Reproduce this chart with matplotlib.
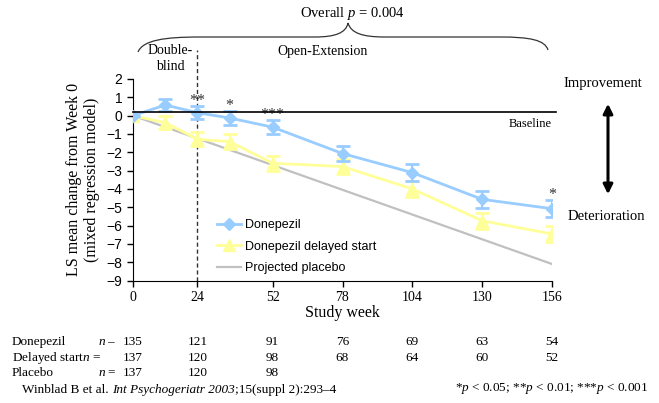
import matplotlib
matplotlib.use("Agg")
import matplotlib.pyplot as plt
from matplotlib.path import Path
from matplotlib.patches import PathPatch
from matplotlib.lines import Line2D
import matplotlib.transforms as mtransforms

plt.rcParams['font.family'] = ['Liberation Serif', 'DejaVu Serif']
plt.rcParams['mathtext.fontset'] = 'custom'
plt.rcParams['mathtext.rm'] = 'Liberation Serif'
plt.rcParams['mathtext.it'] = 'Liberation Serif:italic'

# ---- data ----
weeks = [0, 12, 24, 36, 52, 78, 104, 130, 156]
donepezil = [0, 0.58, 0.16, -0.13, -0.63, -2.07, -3.11, -4.57, -5.08]
donepezil_err = [0, 0.33, 0.35, 0.38, 0.38, 0.42, 0.45, 0.45, 0.45]
delayed = [0, -0.38, -1.29, -1.42, -2.60, -2.78, -4.00, -5.74, -6.46]
delayed_err = [0, 0.35, 0.38, 0.40, 0.42, 0.42, 0.45, 0.45, 0.45]
placebo_weeks = [0, 156]
placebo = [0, -8.1]
baseline_level = 0.2
sig_weeks = [24, 36, 52, 156]
sig_labels = ['**', '*', '***', '*']

xticks = [0, 24, 52, 78, 104, 130, 156]
yticks = list(range(-9, 3))

n_weeks = [0, 24, 52, 78, 104, 130, 156]
n_donepezil = [135, 121, 91, 76, 69, 63, 54]
n_delayed = [137, 120, 98, 68, 64, 60, 52]
n_placebo = [137, 120, 98]

c_don = '#99CCFF'
c_del = '#FFFF99'
c_pla = '#C0C0C0'

W, H = 659, 403
fig = plt.figure(figsize=(W / 100, H / 100), dpi=100)

def fx(x):
    return x / W

def fy(y):
    return 1 - y / H

ax = fig.add_axes([fx(133), fy(280.5), fx(552) - fx(133), fy(79) - fy(280.5)])
ax.set_xlim(0, 156)
ax.set_ylim(-9, 2)

ax.plot(placebo_weeks, placebo, color=c_pla, lw=1.6, zorder=2)
ax.errorbar(weeks, delayed, yerr=delayed_err, color=c_del, lw=2, marker='^', ms=9,
            capsize=5, capthick=2, elinewidth=1.5, zorder=3)
ax.errorbar(weeks, donepezil, yerr=donepezil_err, color=c_don, lw=2, marker='D', ms=6,
            capsize=5, capthick=2, elinewidth=1.5, zorder=4)

# baseline line
ax.plot([0, 157.5], [baseline_level, baseline_level], color='black', lw=1.2, clip_on=False, zorder=5)
ax.text(155.8, baseline_level - 0.35, 'Baseline', ha='right', va='top', fontsize=9)

# dashed line at end of double-blind phase
ax.plot([24, 24], [-9, 3.6], color='#333333', lw=1, ls=(0, (3, 2)), clip_on=False, zorder=1)

# significance markers
for w, lab in zip(sig_weeks, sig_labels):
    i = weeks.index(w)
    ax.annotate(lab, (w, donepezil[i] + donepezil_err[i]), xytext=(0, 1), textcoords='offset points',
                ha='center', va='baseline', fontsize=11.5, color='#333333')

for s in ['top', 'right']:
    ax.spines[s].set_visible(False)
ax.set_xticks(xticks)
ax.set_yticks(yticks)
ax.tick_params(direction='out', length=4, width=1)
for lab in ax.get_yticklabels():
    lab.set_family('Liberation Sans')
    lab.set_fontsize(10)
for lab in ax.get_xticklabels():
    lab.set_fontsize(10)
ax.set_xlabel('Study week', fontsize=11.5, labelpad=1)
ax.set_ylabel('LS mean change from Week 0\n(mixed regression model)', fontsize=11.5, labelpad=5,
              linespacing=1.15)

handles = [Line2D([], [], color=c_don, lw=2, marker='D', ms=6),
           Line2D([], [], color=c_del, lw=2, marker='^', ms=9),
           Line2D([], [], color=c_pla, lw=1.6)]
labels = ['Donepezil', 'Donepezil delayed start', 'Projected placebo']
ax.legend(handles, labels,
          loc='upper left', bbox_to_anchor=(fx(211), fy(213)), bbox_transform=fig.transFigure,
          frameon=False, prop={'family': 'Liberation Sans', 'size': 9},
          handlelength=1.9, handletextpad=0.3, labelspacing=0.75, borderpad=0)

# curly brace
verts = [(138, 52), (143, 40), (165, 37), (200, 37),
         (315, 37),
         (335, 37), (346, 33), (348, 23),
         (351, 33), (362, 37), (385, 37),
         (500, 37),
         (530, 37), (545, 40), (548, 50)]
codes = [Path.MOVETO, Path.CURVE4, Path.CURVE4, Path.CURVE4,
         Path.LINETO,
         Path.CURVE4, Path.CURVE4, Path.CURVE4,
         Path.CURVE4, Path.CURVE4, Path.CURVE4,
         Path.LINETO,
         Path.CURVE4, Path.CURVE4, Path.CURVE4]
path = Path([(fx(x), fy(y)) for x, y in verts], codes)
fig.add_artist(PathPatch(path, transform=fig.transFigure, fill=False, lw=0.9, edgecolor='#333333'))

fig.text(fx(352), fy(13), 'Overall $p$ = 0.004', ha='center', va='center', fontsize=10.5)
fig.text(fx(170), fy(50), 'Double-', ha='center', va='center', fontsize=10)
fig.text(fx(170), fy(67), 'blind', ha='center', va='center', fontsize=10)
fig.text(fx(323), fy(51), 'Open-Extension', ha='center', va='center', fontsize=10)

# right side arrow and labels
fig.text(fx(603), fy(83), 'Improvement', ha='center', va='center', fontsize=10.5)
fig.text(fx(606), fy(217), 'Deterioration', ha='center', va='center', fontsize=10.5)
fig.add_artist(matplotlib.patches.FancyArrowPatch((fx(608), fy(197)), (fx(608), fy(101)),
               transform=fig.transFigure, arrowstyle='<|-|>', mutation_scale=14, lw=2.2,
               color='black'))

# n table
blend = mtransforms.blended_transform_factory(ax.transData, fig.transFigure)
row_y = [fy(342), fy(358), fy(373)]
fig.text(fx(12), row_y[0], 'Donepezil', ha='left', va='center', fontsize=9.5)
fig.text(fx(98), row_y[0], '$n$ \u2013', ha='left', va='center', fontsize=9.5)
fig.text(fx(12), row_y[1], 'Delayed start$n$ =', ha='left', va='center', fontsize=9.5)
fig.text(fx(12), row_y[2], 'Placebo', ha='left', va='center', fontsize=9.5)
fig.text(fx(98), row_y[2], '$n$ =', ha='left', va='center', fontsize=9.5)
for vals, yy in zip([n_donepezil, n_delayed, n_placebo], row_y):
    for w, v in zip(n_weeks, vals):
        ax.text(w, yy, str(v), transform=blend, ha='center', va='center', fontsize=9.5)

# citation: plain + italic + plain pieces
t1 = fig.text(fx(22), fy(390), 'Winblad B et al. ', ha='left', va='center', fontsize=9.5)
fig.canvas.draw()
r = fig.canvas.get_renderer()
bb = t1.get_window_extent(r)
t2 = fig.text(bb.x1 / W, fy(390), 'Int Psychogeriatr 2003', ha='left', va='center', fontsize=9.5,
              style='italic')
bb2 = t2.get_window_extent(r)
fig.text(bb2.x1 / W, fy(390), ';15(suppl 2):293\u20134', ha='left', va='center', fontsize=9.5)

fig.text(fx(648), fy(388), '*$p$ < 0.05; **$p$ < 0.01; ***$p$ < 0.001', ha='right', va='center',
         fontsize=9.5)

fig.savefig('out.png', dpi=100)
